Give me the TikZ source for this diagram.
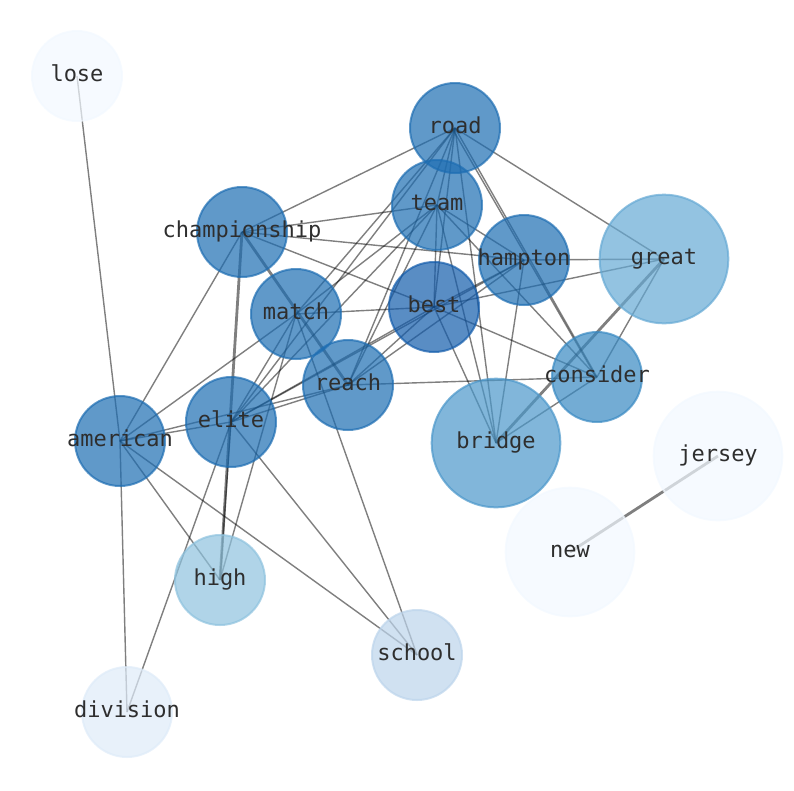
\documentclass[tikz,border=0pt]{standalone}
\usepackage{fontspec}
\setmonofont{DejaVu Sans Mono}
\usetikzlibrary{backgrounds}

\definecolor{deepblue}{HTML}{135CAB}
\definecolor{midblue}{HTML}{1D6DB2}
\definecolor{softblue}{HTML}{3889C2}
\definecolor{bridgeblue}{HTML}{4B97CA}
\definecolor{greatblue}{HTML}{65A9D4}
\definecolor{highblue}{HTML}{8EC2DE}
\definecolor{schoolblue}{HTML}{BCD4EB}
\definecolor{divblue}{HTML}{DEEBF8}
\definecolor{paleblue}{HTML}{F2F8FF}

\newcommand\wordfont{\ttfamily\fontsize{22}{24}\selectfont}
\newcommand\wordtext[1]{\makebox[0pt]{#1}}

\begin{document}
\begin{tikzpicture}[x=1pt, y=-1pt]
        \tikzset{word/.style = {
            circle,
            fill=#1, draw=#1,
            fill opacity=0.7, draw opacity=0.7,
            text opacity=1, text=black!82,
            line width=2pt,
            minimum size=90pt,
            inner sep=0pt,
            text height=16.7pt, text depth=5.3pt,
            font=\wordfont } }
        \tikzset{bigword/.style = {
            word=#1,
            minimum size=128.6pt } }
        \tikzset{link/.style = {
            draw=black, draw opacity=0.5,
            line width=1.4pt} }
        \tikzset{heavylink/.style = {
            link,
            line width=2.8pt} }
        \useasboundingbox (0,0) rectangle (794,790);

        \node[word=paleblue]   (lose)         at (77,76)    {\wordtext{lose}};
        \node[word=midblue]    (road)         at (455,128)  {\wordtext{road}};
        \node[word=midblue]    (team)         at (437,205)  {\wordtext{team}};
        \node[word=midblue]    (championship) at (242,232)  {\wordtext{championship}};
        \node[word=midblue]    (hampton)      at (524,260)  {\wordtext{hampton}};
        \node[bigword=greatblue] (great)      at (664,259)  {\wordtext{great}};
        \node[word=midblue]    (match)        at (296,314)  {\wordtext{match}};
        \node[word=deepblue]   (best)         at (434,307)  {\wordtext{best}};
        \node[word=midblue]    (reach)        at (348,385)  {\wordtext{reach}};
        \node[word=softblue]   (consider)     at (597,377)  {\wordtext{consider}};
        \node[word=midblue]    (elite)        at (231,422)  {\wordtext{elite}};
        \node[word=midblue]    (american)     at (120,441)  {\wordtext{american}};
        \node[bigword=bridgeblue] (bridge)    at (496,443)  {\wordtext{bridge}};
        \node[bigword=paleblue] (jersey)      at (718,456)  {\wordtext{jersey}};
        \node[bigword=paleblue] (new)         at (570,552)  {\wordtext{new}};
        \node[word=highblue]   (high)         at (220,580)  {\wordtext{high}};
        \node[word=schoolblue] (school)       at (417,655)  {\wordtext{school}};
        \node[word=divblue]    (division)     at (127,712)  {\wordtext{division}};

        \begin{scope}[on background layer]
            % plain links
            \foreach \a/\b in {lose/american,
                american/division, american/championship, american/match, american/elite,
                american/reach, american/high, american/school,
                elite/division, elite/school, elite/match, elite/team, elite/road,
                elite/best, elite/reach, elite/hampton, elite/high,
                match/high, match/school, match/road, match/team, match/best,
                championship/road, championship/team, championship/hampton, championship/best,
                reach/road, reach/team, reach/best, reach/hampton, reach/consider,
                team/road, team/hampton, team/best, team/bridge, team/consider,
                road/great, road/consider, road/best, road/bridge,
                best/great, best/hampton, best/consider, best/bridge,
                hampton/great, hampton/bridge,
                great/consider, consider/bridge}{
                \path[link] (\a.center) edge (\b.center);
            }
            \path[link] ([xshift=-3pt]road.center) edge ([xshift=-1pt]consider.center);
            % heavy links
            \foreach \a/\b in {championship/reach, championship/high, great/bridge, new/jersey}{
                \path[heavylink] (\a.center) edge (\b.center);
            }
        \end{scope}
    \end{tikzpicture}
\end{document}
